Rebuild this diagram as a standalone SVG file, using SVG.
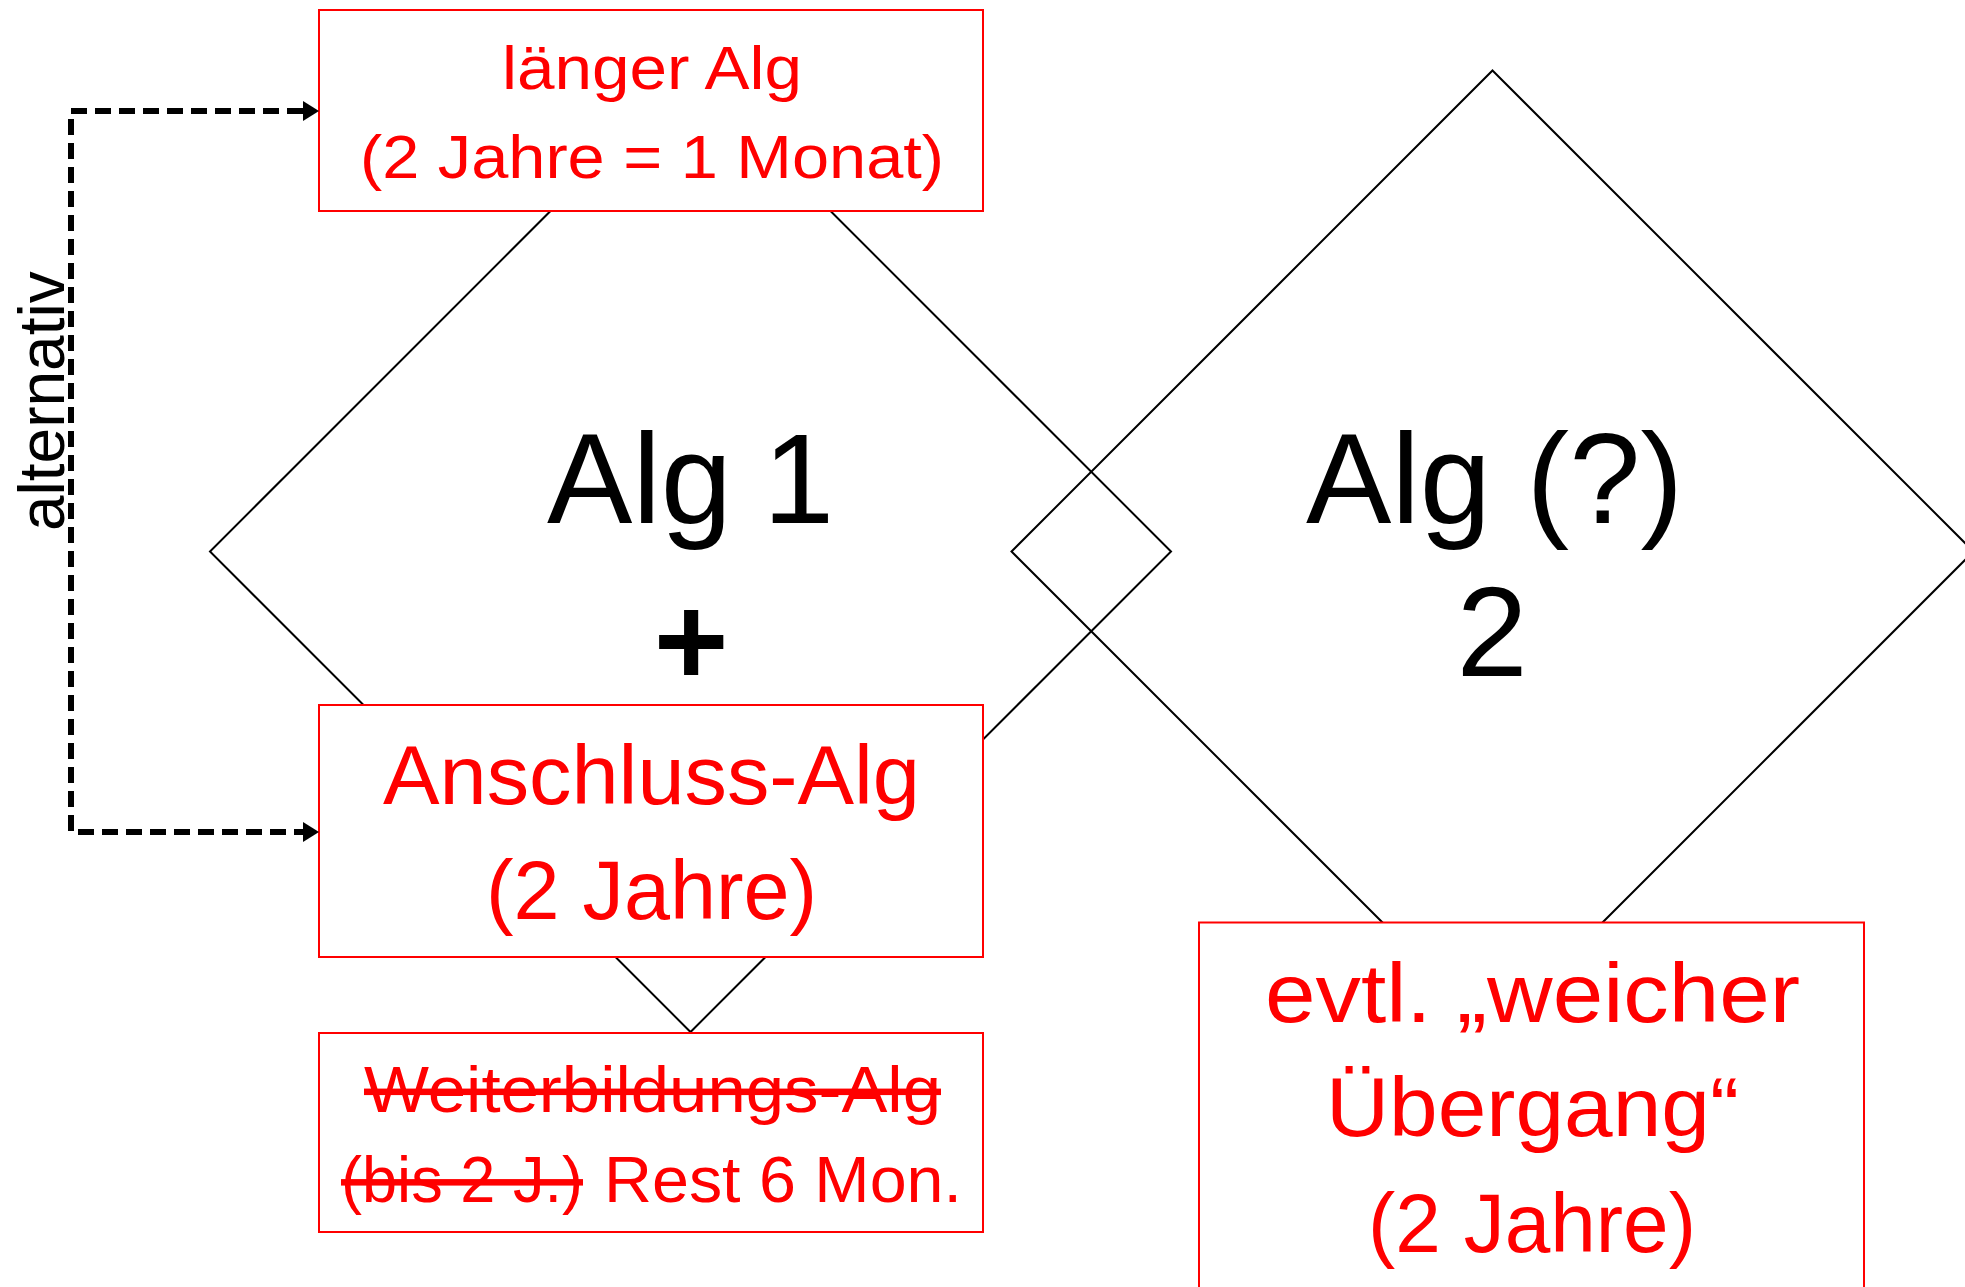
<svg xmlns="http://www.w3.org/2000/svg" width="1965" height="1287" viewBox="0 0 1965 1287">
  <style>
    .dia { fill: none; stroke: #000; stroke-width: 2; }
    .box { fill: #fff; stroke: #ff0000; stroke-width: 2; }
    .red { fill: #ff0000; font-family: "Liberation Sans", Arial, sans-serif; }
    .blk { fill: #000; font-family: "Liberation Sans", Arial, sans-serif; font-size: 128px; }
    .strike { text-decoration: line-through; }
    .conn { fill: none; stroke: #000; stroke-width: 6; stroke-dasharray: 16 8; }
  </style>
  <defs>
    <marker id="arr" markerUnits="userSpaceOnUse" markerWidth="17" markerHeight="20" refX="0" refY="10" orient="auto-start-reverse">
      <path d="M0,0 L16,10 L0,20 z" fill="#000"/>
    </marker>
  </defs>
  <rect width="1965" height="1287" fill="#fff"/>

  <g id="diamond-alg1">
    <polygon class="dia" points="690.5,71 1171,551.5 690.5,1032 210,551.5"/>
  </g>
  <g id="diamond-alg2">
    <polygon class="dia" points="1492.5,70.5 1973.5,551.5 1492.5,1032.5 1011.5,551.5"/>
  </g>

  <g id="label-alg1">
    <text class="blk" x="547" y="523">Alg <tspan x="763">1</tspan></text>
    <text class="blk" x="691" y="685" text-anchor="middle" font-weight="bold">+</text>
  </g>
  <g id="label-alg2">
    <text class="blk" x="1306" y="523">Alg (?)</text>
    <text class="blk" x="1492" y="676" text-anchor="middle">2</text>
  </g>

  <g id="box-laenger">
    <rect class="box" x="319" y="10" width="664" height="201"/>
    <text class="red" font-size="62" x="502" y="88.6" textLength="300" lengthAdjust="spacingAndGlyphs">länger Alg</text>
    <text class="red" font-size="62" x="360" y="177.5" textLength="584" lengthAdjust="spacingAndGlyphs">(2 Jahre = 1 Monat)</text>
  </g>

  <g id="box-anschluss">
    <rect class="box" x="319" y="705" width="664" height="252"/>
    <text class="red" font-size="83" x="383" y="803.5" textLength="537" lengthAdjust="spacingAndGlyphs">Anschluss-Alg</text>
    <text class="red" font-size="83" x="486" y="919" textLength="331" lengthAdjust="spacingAndGlyphs">(2 Jahre)</text>
  </g>

  <g id="box-weiterbildung">
    <rect class="box" x="319" y="1033" width="664" height="199"/>
    <text class="red strike" font-size="65" x="364" y="1111.5" textLength="577" lengthAdjust="spacingAndGlyphs">Weiterbildungs-Alg</text>
    <text class="red strike" font-size="65" x="341" y="1202" textLength="242" lengthAdjust="spacingAndGlyphs">(bis 2 J.)</text>
    <text class="red" font-size="65" x="604" y="1202" textLength="358" lengthAdjust="spacingAndGlyphs">Rest 6 Mon.</text>
  </g>

  <g id="box-uebergang">
    <rect class="box" x="1199" y="922.5" width="665" height="420"/>
    <text class="red" font-size="83" x="1265" y="1022" textLength="535" lengthAdjust="spacingAndGlyphs">evtl. „weicher</text>
    <text class="red" font-size="83" x="1326" y="1136" textLength="413" lengthAdjust="spacingAndGlyphs">Übergang“</text>
    <text class="red" font-size="83" x="1368" y="1252" textLength="328" lengthAdjust="spacingAndGlyphs">(2 Jahre)</text>
  </g>

  <g id="connectors">
    <path class="conn" d="M303,111 H71 V832 H303" marker-start="url(#arr)" marker-end="url(#arr)"/>
    <text font-family="'Liberation Sans', Arial, sans-serif" font-size="64" fill="#000" transform="translate(64,531) rotate(-90)">alternativ</text>
  </g>
</svg>
